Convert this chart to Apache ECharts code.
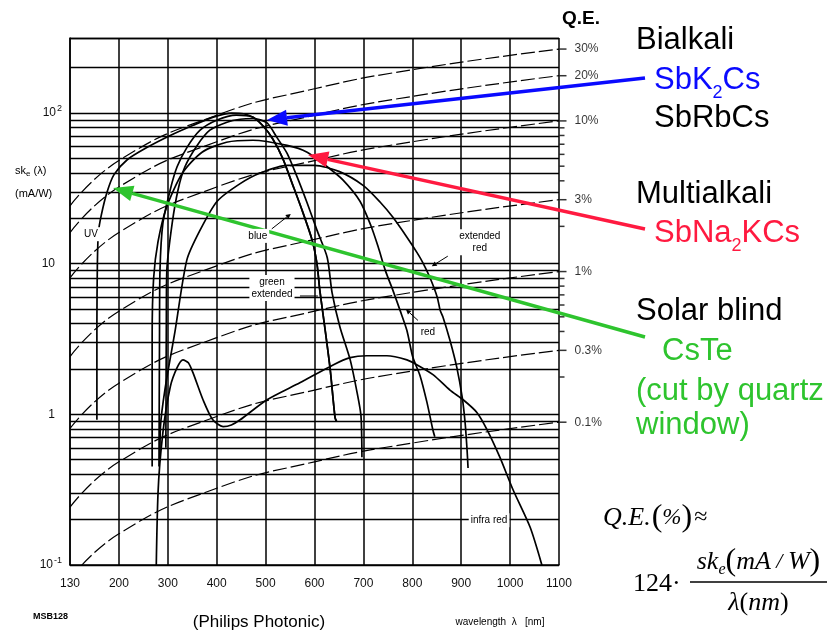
<!DOCTYPE html>
<html>
<head>
<meta charset="utf-8">
<title>Photocathode spectral sensitivity</title>
<script src="https://cdn.jsdelivr.net/npm/echarts@6.0.0/dist/echarts.min.js"></script>
<style>
html,body{margin:0;padding:0;background:#fff;}
#chart{width:833px;height:634px;}
</style>
</head>
<body>
<div id="chart"></div>
<script>
// ---------- axis ticks ----------
const wavelengthTicks = [100,200,300,400,500,600,700,800,900,1000,1100];
const wavelengthTickLabels = ['130','200','300','400','500','600','700','800','900','1000','1100'];
const skMin = 0.1;
const skMax = 315;
const skTickValues = [0.1, 1, 10, 100];
const skTickLabels = ['10{s|-1}', '1', '10', '10{s|2}'];
const skGridValues = [0.2,0.3,0.4,0.5,0.6,0.7,0.8,0.9, 2,3,4,5,6,7,8,9, 20,30,40,50,60,70,80,90, 200, 315];

// ---------- spectral sensitivity curves (wavelength nm, sk mA/W) ----------
const uvCurve = [[155,0.92],[155,4],[156,10],[158,16],[164,21],[176,30],[190,39],[217,49],[257,59],[305,71],[352,83],[393,94],[430,100],[455,99],[474,94],[495,82],[515,67],[535,50],[556,33],[576,22],[595,14.4],[605,10],[611,6.6],[621,3.8],[632,2.0],[642,0.95],[645,0.9]];
const blueCurve = [[282,0.45],[283,3],[284,9],[290,18.6],[305,31],[319,44],[339,59],[366,77],[401,90],[440,97],[474,94],[495,82],[515,67],[535,50],[556,33],[576,22],[595,14.4],[605,10],[611,6.6],[621,3.8],[632,2.0],[642,0.95],[645,0.9]];
const greenExtCurve = [[296,0.6],[297,4],[298,9],[309,18.6],[321,31],[335,44],[360,61],[386,77],[421,87],[448,91],[474,92],[503,86],[523,69],[544,54],[564,38],[585,25.3],[605,16.7],[626,11],[636,6.4],[652,3.8],[673,2.3],[687,1.4],[695,0.98],[697,0.52]];
const redCurve = [[268,0.45],[268,3.3],[271,8],[280,14],[298,24],[330,40],[370,55],[420,64],[474,66],[544,61],[585,55],[626,44],[658,36],[693,26],[715,18],[730,13],[745,9],[760,6.7],[775,4.9],[789,3.6],[801,2.4],[816,1.8],[830,1.2],[842,0.79],[846,0.71]];
const extRedCurve = [[284,0.5],[285,0.83],[294,1.45],[315,3.6],[339,10.6],[366,16.7],[401,26],[448,34],[489,40],[544,45],[600,45],[650,41],[700,33],[734,25.7],[760,20.4],[789,15],[810,11.8],[822,10.1],[836,8.1],[851,6.0],[857,4.9],[863,4.4],[877,3.1],[891,2.05],[902,1.3],[908,0.88],[912,0.58],[914,0.44]];
const infraRedCurve = [[275,0.05],[280,0.3],[290,0.76],[305,1.52],[319,2.04],[331,2.3],[342,2.2],[352,1.87],[372,1.25],[392,0.92],[413,0.83],[430,0.85],[448,0.92],[503,1.25],[570,1.62],[638,2.13],[673,2.38],[707,2.45],[748,2.45],[789,2.3],[810,2.13],[843,1.83],[877,1.45],[904,1.25],[932,1.03],[953,0.79],[979,0.52],[1006,0.316],[1041,0.178],[1065,0.1],[1072,0.08]];

// ---------- constant quantum-efficiency lines ----------
const qe30 = [[100,24.2],[200,48.4],[400,96.8],[600,145],[800,194],[1100,266]];
const qe20 = [[100,16.1],[200,32.3],[400,64.5],[600,96.8],[800,129],[1100,177]];
const qe10 = [[100,8.06],[200,16.1],[400,32.3],[600,48.4],[800,64.5],[1100,88.7]];
const qe3 = [[100,2.42],[200,4.84],[400,9.68],[600,14.5],[800,19.4],[1100,26.6]];
const qe1 = [[100,0.806],[200,1.61],[400,3.23],[600,4.84],[800,6.45],[1100,8.87]];
const qe03 = [[100,0.242],[200,0.484],[400,0.968],[600,1.45],[800,1.94],[1100,2.66]];
const qe01 = [[100,0.081],[200,0.161],[400,0.323],[600,0.484],[800,0.645],[1100,0.887]];
const qeTickValues = [266,177,88.7,26.6,8.87,2.66,0.887];
const qeTickLabels = ['30%','20%','10%','3%','1%','0.3%','0.1%'];
const qeMinorTickValues = [79.8,71,62.1,53.2,44.4,35.5,17.7,7.98,7.1,6.21,5.32,4.44,3.55,1.77];

// ---------- curve labels (text, wavelength, sk) ----------
const curveLabelTexts = ['UV','blue','green\nextended','extended\nred','red','infra red'];
const curveLabelWavelengths = [143,484,513,938,832,957];
const curveLabelSk = [15.7,15.3,6.9,13.9,3.5,0.198];

const SANS = '"Liberation Sans", Arial, Helvetica, sans-serif';
const SERIF = '"Liberation Serif", "Times New Roman", serif';

const chart = echarts.init(document.getElementById('chart'), null, {renderer:'canvas'});

function curve(name, data) {
  return {name, type:'line', data, symbol:'none', showSymbol:false, smooth:0.25, clip:true,
    silent:true, animation:false, z:5, lineStyle:{color:'#000', width:1.7}};
}
function qeLine(name, data, extra) {
  return Object.assign({name, type:'line', data, symbol:'none', showSymbol:false, smooth:true, clip:true,
    silent:true, animation:false, z:4, lineStyle:{color:'#000', width:1.2, type:[14,4]}}, extra || {});
}

const option = {
  animation:false,
  backgroundColor:'#fff',
  grid:{left:70, right:274, top:38, bottom:69, containLabel:false, outerBoundsMode:'none'},
  xAxis:{
    type:'value', min:100, max:1100, interval:100,
    axisLine:{show:true, lineStyle:{color:'#000', width:1.5}},
    axisTick:{show:false},
    axisLabel:{fontSize:12, color:'#111', fontFamily:SANS, margin:13,
      formatter:v => { const i = wavelengthTicks.indexOf(Math.round(v)); return i >= 0 ? wavelengthTickLabels[i] : ''; }},
    splitLine:{show:true, lineStyle:{color:'#000', width:1.5}}
  },
  yAxis:{
    type:'log', logBase:10, min:skMin, max:skMax, splitNumber:4,
    axisLine:{show:true, lineStyle:{color:'#000', width:1.5}},
    axisTick:{show:false},
    axisLabel:{fontSize:12, color:'#111', fontFamily:SANS, margin:8, showMaxLabel:false,
      formatter:v => {
        for (let i = 0; i < skTickValues.length; i++) {
          if (Math.abs(Math.log10(v) - Math.log10(skTickValues[i])) < 1e-3) {
            const l = skTickLabels[i];
            return l.indexOf('{s|') >= 0 ? l : l + '{e|}';
          }
        }
        return '';
      },
      rich:{s:{fontSize:9, color:'#111', fontFamily:SANS, padding:[0,0,9,1]}, e:{width:7}}
    },
    splitLine:{show:true, lineStyle:{color:'#000', width:1.3}}
  },
  series:[
    qeLine('QE 30%', qe30),
    qeLine('QE 20%', qe20),
    qeLine('QE 10%', qe10),
    qeLine('QE 3%', qe3),
    qeLine('QE 1%', qe1),
    qeLine('QE 0.3%', qe03),
    qeLine('QE 0.1%', qe01, {
      markLine:{silent:true, animation:false, symbol:['none','none'], label:{show:false},
        lineStyle:{color:'#000', width:1.3, type:'solid'}, emphasis:{disabled:true},
        data: skGridValues.map(v => ({yAxis:v}))}
    }),
    curve('UV', uvCurve),
    curve('blue', blueCurve),
    curve('green extended', greenExtCurve),
    curve('red', redCurve),
    curve('extended red', extRedCurve),
    curve('infra red', infraRedCurve),
    {type:'scatter', name:'QE ticks', data: qeTickValues.map(v => [1100, v]), symbol:'rect',
      symbolSize:[7,1.5], symbolOffset:[4,0], clip:false, silent:true, animation:false, z:6,
      itemStyle:{color:'#000'},
      label:{show:true, position:'right', distance:8, fontSize:12, color:'#000', fontFamily:SANS,
        formatter:p => qeTickLabels[p.dataIndex]}},
    {type:'scatter', name:'QE minor ticks', data: qeMinorTickValues.map(v => [1100, v]), symbol:'rect',
      symbolSize:[5,1.5], symbolOffset:[3,0], clip:false, silent:true, animation:false, z:6,
      itemStyle:{color:'#000'}}
  ]
};
chart.setOption(option);

// ---------- annotations ----------
const mctx = document.createElement('canvas').getContext('2d');
function measure(t, f) { mctx.font = f; return mctx.measureText(t).width; }
function txt(x, y, text, font, color, align, extra) {
  return Object.assign({type:'text', silent:true, z:100, x, y,
    style:Object.assign({text, font, fill:color || '#000', textAlign:align || 'left', align:align || 'left',
      textVerticalAlign:'middle', verticalAlign:'middle'}, extra || {})});
}
function run(x, y, parts, color) {
  const els = []; let cx = x;
  parts.forEach(p => {
    els.push(txt(cx, y + (p.dy || 0), p.t, p.f, color));
    cx += measure(p.t, p.f) + (p.gap || 0);
  });
  return {els, width: cx - x};
}
function runWidth(parts) { return parts.reduce((s, p) => s + measure(p.t, p.f) + (p.gap || 0), 0); }
function arrow(x1, y1, x2, y2, color, w, L, H) {
  const dx = x2 - x1, dy = y2 - y1, len = Math.hypot(dx, dy);
  const ux = dx / len, uy = dy / len, nx = -uy, ny = ux;
  const bx = x2 - ux * L, by = y2 - uy * L;
  return [
    {type:'line', silent:true, z:90, shape:{x1, y1, x2:bx, y2:by}, style:{stroke:color, lineWidth:w}},
    {type:'polygon', silent:true, z:90, shape:{points:[[x2,y2],[bx + nx*H, by + ny*H],[bx - nx*H, by - ny*H]]}, style:{fill:color}}
  ];
}
const px = d => chart.convertToPixel({gridIndex:0}, d);

const BLUE = '#0a0aff', RED = '#ff1a40', GREEN = '#2ec42e';
const big = `31px ${SANS}`, sub = `18px ${SANS}`;
let g = [];

// right-side notes
const notes = [
  [636, 40, [{t:'Bialkali', f:big}], '#000'],
  [654, 80, [{t:'SbK', f:big}, {t:'2', f:sub, dy:13}, {t:'Cs', f:big}], BLUE],
  [654, 118, [{t:'SbRbCs', f:big}], '#000'],
  [636, 194, [{t:'Multialkali', f:big}], '#000'],
  [654, 233, [{t:'SbNa', f:big}, {t:'2', f:sub, dy:13}, {t:'KCs', f:big}], RED],
  [636, 311, [{t:'Solar blind', f:big}], '#000'],
  [662, 351, [{t:'CsTe', f:big}], GREEN],
  [636, 391, [{t:'(cut by quartz', f:big}], GREEN],
  [636, 425, [{t:'window)', f:big}], GREEN]
];
notes.forEach(n => { g = g.concat(run(n[0], n[1], n[2], n[3]).els); });

// coloured arrows
const blueTip = px([503, 89.9]), redTip = px([587, 52.6]), greenTip = px([188, 31.8]);
g = g.concat(arrow(645, 78, blueTip[0], blueTip[1], BLUE, 3.5, 20, 8));
g = g.concat(arrow(645, 229, redTip[0], redTip[1], RED, 3.5, 20, 8));
g = g.concat(arrow(645, 337, greenTip[0], greenTip[1], GREEN, 3.5, 20, 8));

// Q.E. title
g.push(txt(562, 19, 'Q.E.', `bold 19px ${SANS}`, '#000'));

// y axis name
g = g.concat(run(15, 171, [{t:'sk', f:`11px ${SANS}`}, {t:'e', f:`8px ${SANS}`, dy:3}, {t:' (λ)', f:`11px ${SANS}`}], '#000').els);
g.push(txt(15, 194, '(mA/W)', `11px ${SANS}`, '#000'));

// bottom texts
g.push(txt(259, 622, '(Philips Photonic)', `17px ${SANS}`, '#000', 'center'));
g.push(txt(500, 622, 'wavelength  λ   [nm]', `10px ${SANS}`, '#000', 'center'));
g.push(txt(33, 617, 'MSB128', `bold 9px ${SANS}`, '#000'));

// curve labels
curveLabelTexts.forEach((t, i) => {
  const p = px([curveLabelWavelengths[i], curveLabelSk[i]]);
  g.push(txt(p[0], p[1], t, `10px ${SANS}`, '#000', 'center',
    {backgroundColor:'#fff', padding:[1,2,1,2], lineHeight:12}));
});
// small leader lines
(function () {
  const pb = px([curveLabelWavelengths[1], curveLabelSk[1]]);
  g = g.concat(arrow(pb[0] + 14, pb[1] - 7, pb[0] + 33, pb[1] - 22, '#000', 1, 5, 2.5));
  const pg = px([curveLabelWavelengths[2], curveLabelSk[2]]);
  g.push({type:'line', silent:true, z:95, shape:{x1:pg[0] + 28, y1:pg[1] + 8, x2:pg[0] + 46, y2:pg[1] + 8}, style:{stroke:'#000', lineWidth:1}});
  const pe = px([curveLabelWavelengths[3], curveLabelSk[3]]);
  g = g.concat(arrow(pe[0] - 32, pe[1] + 14, pe[0] - 48, pe[1] + 24, '#000', 1, 5, 2.5));
  const pr = px([curveLabelWavelengths[4], curveLabelSk[4]]);
  g = g.concat(arrow(pr[0] - 10, pr[1] - 12, pr[0] - 22, pr[1] - 23, '#000', 1, 5, 2.5));
})();

// formula
const fi = `italic 26px ${SERIF}`, fp = `32px ${SERIF}`, fr = `26px ${SERIF}`;
g = g.concat(run(603, 518, [
  {t:'Q.E.', f:fi, gap:1}, {t:'(', f:fp}, {t:'%', f:`italic 23px ${SERIF}`}, {t:')', f:fp, gap:2}, {t:'≈', f:`24px ${SERIF}`}
], '#000').els);
g = g.concat(run(633, 584, [{t:'124', f:fr}, {t:'·', f:fr}], '#000').els);
const numParts = [{t:'sk', f:fi}, {t:'e', f:`italic 16px ${SERIF}`, dy:8}, {t:'(', f:fp}, {t:'mA', f:fi}, {t:' / ', f:`italic 22px ${SERIF}`}, {t:'W', f:fi}, {t:')', f:fp}];
const denParts = [{t:'λ', f:fi}, {t:'(', f:fr}, {t:'nm', f:fi}, {t:')', f:fr}];
const barX1 = 690, barX2 = 827, barMid = (barX1 + barX2) / 2;
g = g.concat(run(barMid - runWidth(numParts) / 2, 562, numParts, '#000').els);
g.push({type:'line', silent:true, z:100, shape:{x1:barX1, y1:582, x2:barX2, y2:582}, style:{stroke:'#000', lineWidth:1.5}});
g = g.concat(run(barMid - runWidth(denParts) / 2, 603, denParts, '#000').els);

chart.setOption({graphic: g});
</script>
</body>
</html>
